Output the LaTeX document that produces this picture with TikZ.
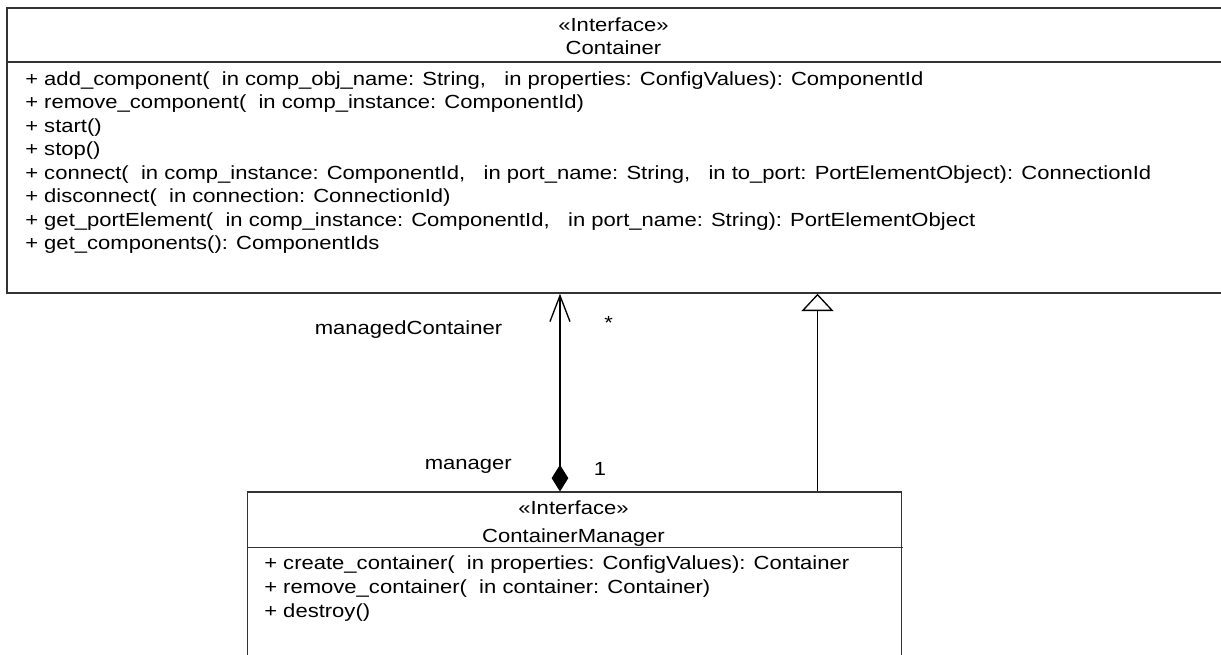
\documentclass[tikz,border=0pt]{standalone}
\usepackage{fontspec}
\setmainfont{Liberation Sans}
\usetikzlibrary{arrows.meta}
\newcommand{\hs}[1]{\scalebox{1.16}[1]{#1}}
\tikzset{
  umlbox/.style={draw=black!80, line width=1.3pt, fill=white, inner sep=0pt, anchor=north west},
  sepline/.style={draw=black!80, line width=1.3pt},
  txt/.style={inner sep=0pt, font=\fontsize{14.25}{17}\selectfont},
  lbl/.style={txt, anchor=base west},
  ttl/.style={txt, anchor=base},
  conn/.style={draw=black, line width=1pt},
}
\begin{document}
\begin{tikzpicture}[x=0.75pt,y=-0.75pt]
\useasboundingbox (0,0) rectangle (1221,655);
\fill[white] (0,0) rectangle (1221,655);
\clip (0,0) rectangle (1221,655);

% Container box
\node[umlbox, minimum width=914.25pt, minimum height=213.75pt] (cont) at (6,7) {};
\draw[sepline] (6,62) -- (1225,62);
\node[ttl] (contst) at (613.5,31.7) {\hs{«Interface»}};
\node[ttl] (contnm) at (613.5,55) {\hs{Container}};
\node[lbl] (m1) at (25,85.5)  {\hs{+ add\_component(~~in comp\_obj\_name: String,~~~in properties: ConfigValues): ComponentId}};
\node[lbl] (m2) at (25,109)   {\hs{+ remove\_component(~~in comp\_instance: ComponentId)}};
\node[lbl] (m3) at (25,132.5) {\hs{+ start()}};
\node[lbl] (m4) at (25,156)   {\hs{+ stop()}};
\node[lbl] (m5) at (25,179.5) {\hs{+ connect(~~in comp\_instance: ComponentId,~~~in port\_name: String,~~~in to\_port: PortElementObject): ConnectionId}};
\node[lbl] (m6) at (25,203)   {\hs{+ disconnect(~~in connection: ConnectionId)}};
\node[lbl] (m7) at (25,226.5) {\hs{+ get\_portElement(~~in comp\_instance: ComponentId,~~~in port\_name: String): PortElementObject}};
\node[lbl] (m8) at (25,250)   {\hs{+ get\_components(): ComponentIds}};

% ContainerManager box
\node[umlbox, minimum width=490.5pt, minimum height=140pt] (mgr) at (246.5,491.5) {};
\draw[sepline] (246.5,547.5) -- (903,547.5);
\node[ttl] (mgrst) at (573.5,515) {\hs{«Interface»}};
\node[ttl] (mgrnm) at (573.5,542) {\hs{ContainerManager}};
\node[lbl] (k1) at (264,569.5) {\hs{+ create\_container(~~in properties: ConfigValues): Container}};
\node[lbl] (k2) at (264,593.5) {\hs{+ remove\_container(~~in container: Container)}};
\node[lbl] (k3) at (264,617)   {\hs{+ destroy()}};

% association (composition, navigable to Container)
\draw[conn, {Diamond[length=20pt,width=12.5pt]}-{Straight Barb[length=19.5pt,width=15pt,line width=1pt]}]
  ([xshift=235.1pt]mgr.north west) -- ([xshift=235.1pt]mgr.north west |- cont.south);
% generalization
\draw[conn, -{Triangle[open,length=13pt,width=24pt,fill=white,line width=1pt]}]
  ([xshift=428.25pt]mgr.north west) -- ([xshift=428.25pt]mgr.north west |- cont.south);

% role labels
\node[lbl] (r1) at (314.5,335) {\hs{managedContainer}};
\node[lbl] (r2) at (604,330) {\hs{*}};
\node[lbl] (r3) at (424.5,469.3) {\hs{manager}};
\node[lbl] (r4) at (593.5,475.7) {\hs{1}};
\end{tikzpicture}
\end{document}
